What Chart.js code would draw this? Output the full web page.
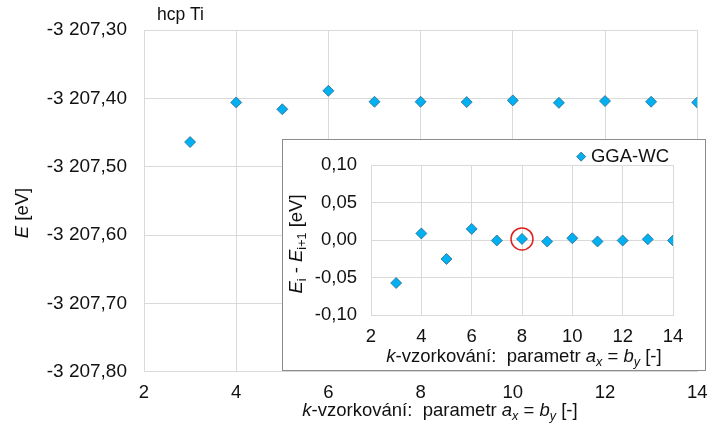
<!DOCTYPE html>
<html><head><meta charset="utf-8">
<script src="https://cdn.jsdelivr.net/npm/chart.js@4.4.1/dist/chart.umd.min.js"></script>
<style>
html,body{margin:0;padding:0;background:#fff;}
#wrap{position:relative;width:718px;height:430px;overflow:hidden;}
#main{position:absolute;left:0;top:0;}
#insetBox{position:absolute;left:282px;top:139px;width:422px;height:230px;border:1px solid #8c8c8c;background:#fff;}
#inset{display:block;}
</style></head><body>
<div id="wrap">
<canvas id="main" width="718" height="430"></canvas>
<div id="insetBox"><canvas id="inset" width="422" height="230"></canvas></div>
</div>
<script>
// ---- data ----
const kValues = [3, 4, 5, 6, 7, 8, 9, 10, 11, 12, 13, 14];
const energyEV = [-3207.464, -3207.406, -3207.416, -3207.389, -3207.405, -3207.405, -3207.4055, -3207.403, -3207.4065, -3207.404, -3207.405, -3207.406];
const diffEV = [-0.057, 0.009, -0.025, 0.015, -0.0004, 0.0017, -0.0017, 0.0026, -0.0017, -0.0004, 0.0013, -0.0004];
const highlightK = [8];
const mainXTicks = [2, 4, 6, 8, 10, 12, 14];
const mainYTicks = [-3207.8, -3207.7, -3207.6, -3207.5, -3207.4, -3207.3];
const insetXTicks = [2, 4, 6, 8, 10, 12, 14];
const insetYTicks = [-0.10, -0.05, 0.00, 0.05, 0.10];
const seriesName = 'GGA-WC';
const chartTitle = 'hcp Ti';

// ---- helpers ----
const FAM = '"Liberation Sans", Arial, sans-serif';
const TXT = '#111111';
const GRID = '#d9d9d9';
const FS = 18.5;

function fmt(v) {
  if (Math.abs(v) < 1e-9) return '0,00';
  const neg = v < 0;
  const s = Math.abs(v).toFixed(2);
  let [ip, dp] = s.split('.');
  ip = ip.replace(/\B(?=(\d{3})+(?!\d))/g, ' ');
  return (neg ? '-' : '') + ip + ',' + dp;
}

function drawRich(ctx, segs, cx, cy, rot, size) {
  ctx.save();
  ctx.translate(cx, cy);
  ctx.rotate(rot);
  ctx.textBaseline = 'middle';
  ctx.textAlign = 'left';
  ctx.fillStyle = TXT;
  const fontFor = s => (s.italic ? 'italic ' : '') + (s.sub ? size * 0.68 : size) + 'px ' + FAM;
  let total = 0;
  const ws = segs.map(s => { ctx.font = fontFor(s); const w = ctx.measureText(s.t).width; total += w; return w; });
  let x = -total / 2;
  segs.forEach((s, i) => {
    ctx.font = fontFor(s);
    ctx.fillText(s.t, x, s.sub ? size * 0.3 : 0);
    x += ws[i];
  });
  ctx.restore();
}

const xTitleSegs = [
  {t: 'k', italic: true}, {t: '-vzorkování:  parametr '}, {t: 'a', italic: true},
  {t: 'x', italic: true, sub: true}, {t: ' = '}, {t: 'b', italic: true},
  {t: 'y', italic: true, sub: true}, {t: ' [-]'}
];

const pointStyleCommon = {
  pointStyle: 'rectRot',
  pointRadius: 5.5,
  pointHoverRadius: 5.5,
  backgroundColor: '#00b0f0',
  borderColor: '#2e6a8c',
  pointBorderWidth: 0.8,
  showLine: false
};

// ---- main chart ----
const mainPlugin = {
  id: 'mainText',
  afterDraw(chart) {
    const ctx = chart.ctx;
    ctx.save();
    ctx.font = '17.5px ' + FAM;
    ctx.fillStyle = TXT;
    ctx.textBaseline = 'middle';
    ctx.textAlign = 'left';
    ctx.fillText(chartTitle, 157, 15);
    ctx.restore();
    drawRich(ctx, xTitleSegs, 440, 411, 0, FS);
    drawRich(ctx, [{t: 'E', italic: true}, {t: ' [eV]'}], 23, 213, -Math.PI / 2, FS);
  }
};

new Chart(document.getElementById('main'), {
  type: 'scatter',
  data: {
    datasets: [Object.assign({
      label: seriesName,
      data: kValues.map((k, i) => ({x: k, y: energyEV[i]}))
    }, pointStyleCommon)]
  },
  options: {
    responsive: false,
    animation: false,
    events: [],
    layout: {padding: {left: 0, right: 14, top: 30, bottom: 0}},
    plugins: {legend: {display: false}, tooltip: {enabled: false}, title: {display: false}},
    scales: {
      x: {
        type: 'linear', min: 2, max: 14,
        afterBuildTicks: s => { s.ticks = mainXTicks.map(v => ({value: v})); },
        afterFit: s => { s.height = 58.3; },
        grid: {color: GRID, drawTicks: false, lineWidth: 1},
        border: {color: GRID},
        ticks: {font: {family: FAM, size: FS}, color: TXT, padding: 10.5, maxRotation: 0}
      },
      y: {
        type: 'linear', min: -3207.8, max: -3207.3,
        afterBuildTicks: s => { s.ticks = mainYTicks.map(v => ({value: v})); },
        afterFit: s => { s.width = 144; },
        grid: {color: GRID, drawTicks: false, lineWidth: 1},
        border: {color: GRID},
        ticks: {font: {family: FAM, size: 19}, color: TXT, padding: 17, callback: v => fmt(v)}
      }
    }
  },
  plugins: [mainPlugin]
});

// ---- inset chart ----
const insetPlugin = {
  id: 'insetText',
  afterDraw(chart) {
    const ctx = chart.ctx;
    drawRich(ctx, xTitleSegs, 241, 216.7, 0, FS);
    drawRich(ctx, [
      {t: 'E', italic: true}, {t: 'i', sub: true}, {t: ' - '},
      {t: 'E', italic: true}, {t: 'i+1', sub: true}, {t: ' [eV]'}
    ], 14, 104, -Math.PI / 2, FS);
  }
};

new Chart(document.getElementById('inset'), {
  type: 'scatter',
  data: {
    datasets: [
      Object.assign({
        label: seriesName,
        data: kValues.map((k, i) => ({x: k, y: diffEV[i]}))
      }, pointStyleCommon),
      {
        label: 'highlight',
        data: highlightK.map(k => ({x: k, y: diffEV[kValues.indexOf(k)]})),
        pointStyle: 'circle',
        pointRadius: 11,
        pointHoverRadius: 11,
        backgroundColor: 'rgba(0,0,0,0)',
        borderColor: '#e0201b',
        pointBorderWidth: 1.5,
        showLine: false
      }
    ]
  },
  options: {
    responsive: false,
    animation: false,
    events: [],
    layout: {padding: {left: 0, right: 32, top: 0, bottom: 0}},
    plugins: {
      tooltip: {enabled: false},
      legend: {
        display: true, position: 'top', align: 'end', maxHeight: 21.7,
        labels: {
          filter: item => item.text !== 'highlight',
          usePointStyle: true, boxWidth: 1, boxHeight: 6.4, padding: 4,
          font: {family: FAM, size: FS}, color: TXT
        }
      }
    },
    scales: {
      x: {
        type: 'linear', min: 2, max: 14,
        afterBuildTicks: s => { s.ticks = insetXTicks.map(v => ({value: v})); },
        afterFit: s => { s.height = 54.7; },
        grid: {color: GRID, drawTicks: false, lineWidth: 1},
        border: {color: GRID},
        ticks: {font: {family: FAM, size: FS}, color: TXT, padding: 10.3, maxRotation: 0}
      },
      y: {
        type: 'linear', min: -0.1, max: 0.1,
        afterBuildTicks: s => { s.ticks = insetYTicks.map(v => ({value: v})); },
        afterFit: s => { s.width = 88; },
        grid: {color: GRID, drawTicks: false, lineWidth: 1},
        border: {color: GRID},
        ticks: {font: {family: FAM, size: FS}, color: TXT, padding: 14, callback: v => fmt(v)}
      }
    }
  },
  plugins: [insetPlugin]
});
</script>
</body></html>
